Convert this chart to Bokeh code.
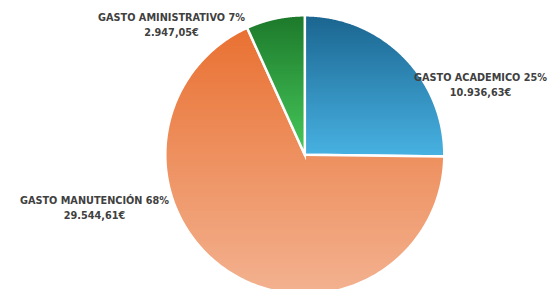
import numpy as np
from bokeh.plotting import figure
from bokeh.models import Range1d
from bokeh.core.properties import value
from bokeh.embed import file_html
from bokeh.resources import INLINE

# ---- data ----
categories = ["GASTO ACADEMICO", "GASTO MANUTENCIÓN", "GASTO AMINISTRATIVO"]
amounts = [10936.63, 29544.61, 2947.05]
percent_labels = [25, 68, 7]
top_colors = ["#1b6590", "#e97132", "#1d792b"]
bottom_colors = ["#48b2e2", "#f3b290", "#47c95b"]

# ---- layout constants (pixel space) ----
W, H = 551, 289
CX, CY, R = 304.3, 154.3, 139.5
label_pos = [(480, 77, 92), (94, 200, 215), (171, 17, 32)]
FONT = "DejaVu Sans Condensed, Roboto, sans-serif"

p = figure(width=W, height=H, x_range=Range1d(0, W), y_range=Range1d(H, 0),
           output_backend="svg", toolbar_location=None,
           x_axis_location=None, y_axis_location=None, min_border=0)
p.outline_line_color = None
p.grid.visible = False


def hex2rgb(h):
    h = h.lstrip("#")
    return np.array([int(h[i:i + 2], 16) for i in (0, 2, 4)], dtype=float)


def rgb2hex(c):
    return "#%02x%02x%02x" % tuple(int(round(v)) for v in c)


def clip(poly, yv, keep_below):
    out = []
    n = len(poly)
    for i in range(n):
        a = poly[i]
        b = poly[(i + 1) % n]
        ina = (a[1] >= yv) if keep_below else (a[1] <= yv)
        inb = (b[1] >= yv) if keep_below else (b[1] <= yv)
        if ina:
            out.append(a)
        if ina != inb:
            t = (yv - a[1]) / (b[1] - a[1])
            out.append((a[0] + t * (b[0] - a[0]), yv))
    return out


total = sum(amounts)
start = 90.0
for i, amt in enumerate(amounts):
    span = 360.0 * amt / total
    end = start - span
    th = np.radians(np.linspace(start, end, 240))
    poly = [(CX, CY)] + [(CX + R * np.cos(t), CY - R * np.sin(t)) for t in th]
    ys = [q[1] for q in poly]
    y_top, y_bot = min(ys), max(ys)
    c0, c1 = hex2rgb(top_colors[i]), hex2rgb(bottom_colors[i])
    xs_list, ys_list, cols = [], [], []
    step = 1.5
    y = y_top
    while y < y_bot:
        band = clip(clip(poly, y, True), y + step + 0.8, False)
        if len(band) >= 3:
            xs_list.append([q[0] for q in band])
            ys_list.append([q[1] for q in band])
            f = (y + step / 2 - y_top) / (y_bot - y_top)
            cols.append(rgb2hex(c0 + (c1 - c0) * min(max(f, 0), 1)))
        y += step
    p.patches(xs_list, ys_list, fill_color=cols, line_color=None)
    p.patch([q[0] for q in poly], [q[1] for q in poly], fill_color=None,
            line_color="white", line_width=2.5, line_join="miter")
    start = end

# ---- labels ----
for i, name in enumerate(categories):
    lx, ly1, ly2 = label_pos[i]
    euro = f"{amounts[i]:,.2f}".replace(",", "X").replace(".", ",").replace("X", ".") + "€"
    for ty, txt in ((ly1, f"{name} {percent_labels[i]}%"), (ly2, euro)):
        p.text([lx], [ty], text=[txt],
               text_font=value(FONT), text_font_style="bold",
               text_font_size="10.8px", text_color="#404040",
               text_align="center", text_baseline="middle")

open("out.html", "w").write(file_html(p, INLINE))
